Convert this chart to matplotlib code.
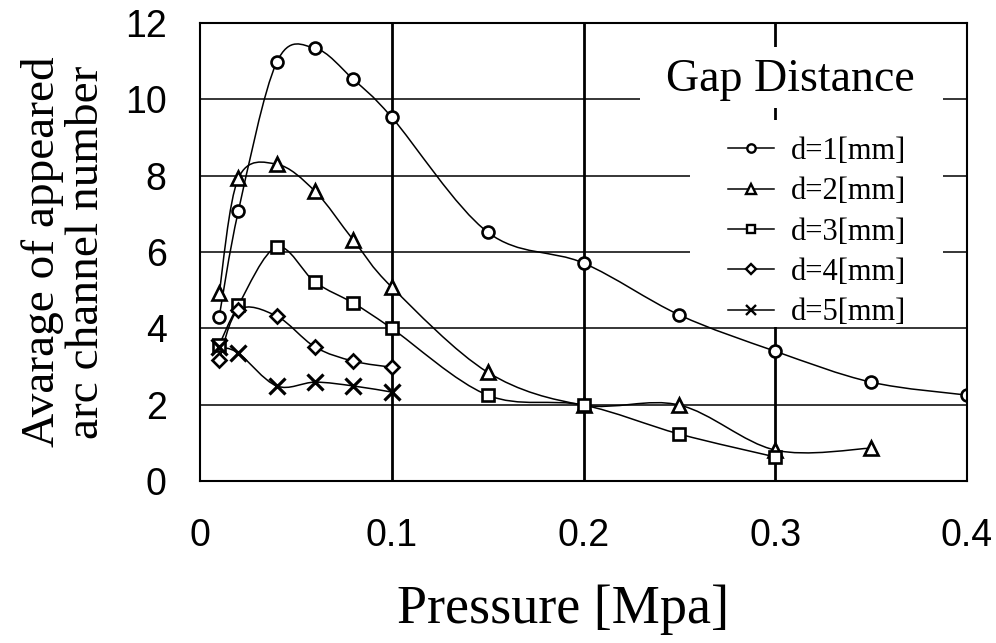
import numpy as np
import matplotlib
matplotlib.use('Agg')
import matplotlib.pyplot as plt
from matplotlib.path import Path
from matplotlib.patches import PathPatch, Rectangle
from matplotlib.lines import Line2D

# pressure [MPa] and mean number of arc channels for each gap distance
p_d1 = [0.01, 0.02, 0.04, 0.06, 0.08, 0.10, 0.15, 0.20, 0.25, 0.30, 0.35, 0.40]
n_d1 = [4.30, 7.07, 10.97, 11.34, 10.52, 9.53, 6.52, 5.71, 4.35, 3.40, 2.59, 2.25]
p_d2 = [0.01, 0.02, 0.04, 0.06, 0.08, 0.10, 0.15, 0.20, 0.25, 0.30, 0.35]
n_d2 = [4.92, 7.93, 8.30, 7.59, 6.31, 5.08, 2.85, 1.99, 1.99, 0.81, 0.86]
p_d3 = [0.01, 0.02, 0.04, 0.06, 0.08, 0.10, 0.15, 0.20, 0.25, 0.30]
n_d3 = [3.56, 4.61, 6.13, 5.21, 4.66, 4.00, 2.25, 1.99, 1.23, 0.63]
p_d4 = [0.01, 0.02, 0.04, 0.06, 0.08, 0.10]
n_d4 = [3.17, 4.48, 4.32, 3.51, 3.14, 2.98]
p_d5 = [0.01, 0.02, 0.04, 0.06, 0.08, 0.10]
n_d5 = [3.51, 3.35, 2.49, 2.59, 2.49, 2.33]

labels = ['d=1[mm]', 'd=2[mm]', 'd=3[mm]', 'd=4[mm]', 'd=5[mm]']
markers = ['o', '^', 's', 'D', 'x']
msizes = [8.6, 9.5, 8.6, 7.0, 11.0]
mews = [1.9, 1.9, 1.9, 1.9, 2.3]

x_ticks = [0, 0.1, 0.2, 0.3, 0.4]
x_ticklabels = ['0', '0.1', '0.2', '0.3', '0.4']
y_ticks = [0, 2, 4, 6, 8, 10, 12]

SERIF = ['Liberation Serif', 'DejaVu Serif']
SANS = ['Liberation Sans', 'DejaVu Sans']


def smooth_path(xs, ys):
    # Catmull-Rom style bezier through every point (spreadsheet "smoothed line")
    pts = np.column_stack([xs, ys]).astype(float)
    n = len(pts)
    verts = [pts[0]]
    codes = [Path.MOVETO]
    for i in range(n - 1):
        p0 = pts[i - 1] if i > 0 else pts[i]
        p1 = pts[i]
        p2 = pts[i + 1]
        p3 = pts[i + 2] if i + 2 < n else pts[i + 1]
        verts += [p1 + (p2 - p0) / 6.0, p2 - (p3 - p1) / 6.0, p2]
        codes += [Path.CURVE4] * 3
    return Path(verts, codes)


fig = plt.figure(figsize=(9.96, 6.43), dpi=100)
ax = fig.add_axes([200 / 996, 1 - 481 / 643, 767 / 996, 458 / 643])
ax.set_xlim(0, 0.4)
ax.set_ylim(0, 12)

# grid
for y in y_ticks[1:-1]:
    ax.axhline(y, color='black', lw=1.1, zorder=1)
for x in x_ticks[1:-1]:
    ax.axvline(x, color='black', lw=2.0, zorder=1)

# white areas behind the legend
ax.add_patch(Rectangle((0.5737, 0.8144), 0.395, 0.1332, transform=ax.transAxes,
                       facecolor='white', edgecolor='none', zorder=2))
ax.add_patch(Rectangle((0.6389, 0.3362), 0.3299, 0.452, transform=ax.transAxes,
                       facecolor='white', edgecolor='none', zorder=2))

series = [(p_d1, n_d1), (p_d2, n_d2), (p_d3, n_d3), (p_d4, n_d4), (p_d5, n_d5)]
handles = []
for (px, ny), mk, ms, mw, lab in zip(series, markers, msizes, mews, labels):
    ax.add_patch(PathPatch(smooth_path(px, ny), facecolor='none',
                           edgecolor='black', lw=1.1, zorder=3))
    ax.plot(px, ny, linestyle='none', marker=mk, ms=ms, mfc='white',
            mec='black', mew=mw, zorder=4)
    handles.append(Line2D([], [], color='black', lw=1.1, marker=mk,
                          ms=ms * 0.7, mfc='white', mec='black', mew=1.7,
                          label=lab))

leg = ax.legend(handles=handles, loc='upper left',
                bbox_to_anchor=(728 / 996, 1 - 137 / 643),
                bbox_transform=fig.transFigure, frameon=False,
                borderpad=0, borderaxespad=0, handlelength=1.5,
                handletextpad=0.55, labelspacing=0.37,
                prop={'family': SERIF, 'size': 22})
leg.set_zorder(5)

fig.text(790 / 996, 1 - 80 / 643, 'Gap Distance', ha='center', va='center',
         family=SERIF, fontsize=33)

ax.set_xticks(x_ticks)
ax.set_xticklabels(x_ticklabels)
ax.set_yticks(y_ticks)
ax.tick_params(axis='both', length=0)
ax.tick_params(axis='x', pad=27)
ax.tick_params(axis='y', pad=24)
for t in ax.get_xticklabels() + ax.get_yticklabels():
    t.set_family(SANS)
    t.set_fontsize(27)

ax.set_xlabel('Pressure [Mpa]', family=SERIF, fontsize=39)
ax.xaxis.set_label_coords(0.473, -0.31)
ax.xaxis.label.set_va('baseline')
ax.set_ylabel('Avarage of appeared\narc channel number', family=SERIF,
              fontsize=34, linespacing=1.05)
ax.yaxis.set_label_coords(-0.177, 0.5)
ax.yaxis.label.set_va('center')

for s in ax.spines.values():
    s.set_linewidth(1.5)
    s.set_zorder(6)

fig.savefig('out.png', dpi=100)
